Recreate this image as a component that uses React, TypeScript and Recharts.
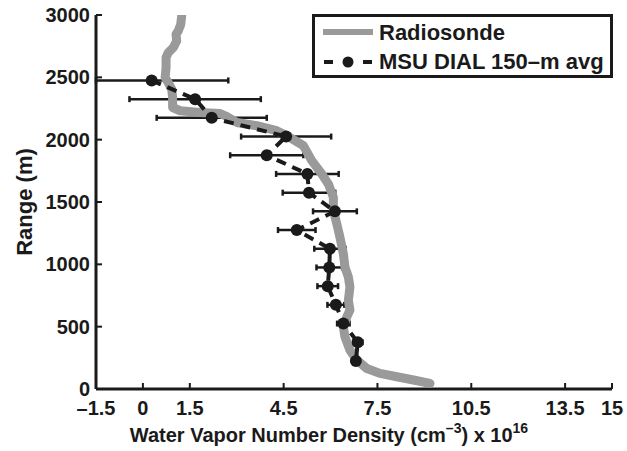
import React from "react";
import {
  ErrorBar,
  Label,
  Legend,
  Scatter,
  ScatterChart,
  XAxis,
  YAxis,
} from "recharts";

// radiosonde profile (top to bottom)
const sondeRange = [
  2992, 2925, 2872, 2845, 2792, 2738, 2698, 2658, 2578, 2498, 2458, 2405, 2338,
  2258, 2232, 2218, 2210, 2192, 2138, 2112, 2072, 2032, 1952, 1832, 1725, 1645,
  1538, 1432, 1325, 1218, 1085, 978, 898, 818, 712, 632, 578, 498, 418, 312, 232,
  165, 125, 98, 72, 45,
];
const sondeDensity = [
  1.24, 1.21, 1.13, 1.06, 1.08, 0.97, 0.81, 0.74, 0.74, 0.71, 0.81, 0.92, 0.95,
  0.95, 1.19, 1.83, 2.47, 2.63, 3.0, 3.64, 4.28, 4.6, 5.13, 5.4, 5.72, 5.93,
  6.09, 6.09, 6.2, 6.3, 6.41, 6.46, 6.57, 6.62, 6.57, 6.62, 6.52, 6.41, 6.46,
  6.62, 6.84, 7.16, 7.58, 8.12, 8.65, 9.18,
];

// MSU DIAL 150-m averages with error half-widths
const dialRange = [
  2475, 2325, 2175, 2025, 1875, 1725, 1575, 1425, 1275, 1125, 975, 825, 675, 525,
  375, 225,
];
const dialDensity = [
  0.28, 1.67, 2.2, 4.58, 3.96, 5.26, 5.31, 6.14, 4.92, 5.98, 5.96, 5.91, 6.17,
  6.41, 6.87, 6.81,
];
const dialError = [
  2.45, 2.1, 1.76, 1.44, 1.17, 1.0, 0.84, 0.7, 0.6, 0.5, 0.41, 0.33, 0.27, 0.2,
  0.15, 0.1,
];

const xTicks = [-1.5, 0, 1.5, 4.5, 7.5, 10.5, 13.5, 15];
const yTicks = [0, 500, 1000, 1500, 2000, 2500, 3000];
const X_MIN = -1.5;

const GRAY = "#9a9a9a";
const INK = "#1a1a1a";
const FONT = "'Liberation Sans', Arial, sans-serif";

const sondeData = sondeRange.map((r, i) => ({ x: sondeDensity[i], y: r }));
const dialData = dialRange.map((r, i) => ({
  x: dialDensity[i],
  y: r,
  err: [Math.min(dialError[i], dialDensity[i] - X_MIN), dialError[i]],
}));

const tickStyle = { fill: INK, fontSize: 20, fontWeight: 700, fontFamily: FONT };
const fmtX = (v: number) => (v < 0 ? "\u2013" + Math.abs(v) : String(v));

function LegendBox() {
  return (
    <svg width={301} height={64} style={{ display: "block" }}>
      <rect x={1.5} y={1.5} width={298} height={61} fill="#fff" stroke={INK} strokeWidth={3} />
      <line x1={11} x2={61} y1={18} y2={18} stroke={GRAY} strokeWidth={6} />
      <text x={67} y={26} fontSize={22} fontWeight={700} fontFamily={FONT} fill={INK}>
        Radiosonde
      </text>
      <line x1={12} x2={21} y1={48} y2={48} stroke={INK} strokeWidth={4} />
      <circle cx={36} cy={48} r={5.5} fill={INK} />
      <line x1={51} x2={60} y1={48} y2={48} stroke={INK} strokeWidth={4} />
      <text x={67} y={55} fontSize={22} fontWeight={700} fontFamily={FONT} fill={INK}>
        MSU DIAL 150–m avg
      </text>
    </svg>
  );
}

const DialDot = (props: any) => (
  <circle cx={props.cx} cy={props.cy} r={6} fill={INK} />
);

export default function App() {
  return (
    <div style={{ position: "absolute", left: 0, top: 0, background: "#fff" }}>
      <ScatterChart
        width={627}
        height={451}
        margin={{ top: 15, right: 15, bottom: 0, left: 0 }}
        style={{ fontFamily: FONT }}
      >
        <XAxis
          type="number"
          dataKey="x"
          domain={[-1.5, 15]}
          ticks={xTicks}
          allowDataOverflow
          height={62}
          tickSize={-6}
          tickMargin={18}
          tickFormatter={fmtX}
          tick={tickStyle}
          axisLine={{ stroke: INK, strokeWidth: 3 }}
          tickLine={{ stroke: INK, strokeWidth: 2 }}
        >
          <Label
            content={() => (
              <text
                x={329}
                y={442}
                textAnchor="middle"
                fontSize={20}
                fontWeight={700}
                fontFamily={FONT}
                fill={INK}
              >
                Water Vapor Number Density (cm
                <tspan fontSize={14} dy={-9}>–3</tspan>
                <tspan dy={9}>) x 10</tspan>
                <tspan fontSize={14} dy={-9}>16</tspan>
              </text>
            )}
          />
        </XAxis>
        <XAxis
          xAxisId="top"
          orientation="top"
          type="number"
          domain={[-1.5, 15]}
          ticks={xTicks}
          allowDataOverflow
          height={0}
          tickSize={-6}
          tickFormatter={() => ""}
          axisLine={{ stroke: INK, strokeWidth: 3 }}
          tickLine={{ stroke: INK, strokeWidth: 2 }}
        />
        <YAxis
          type="number"
          dataKey="y"
          domain={[0, 3000]}
          ticks={yTicks}
          allowDataOverflow
          width={96}
          tickSize={-6}
          tickMargin={12}
          tick={tickStyle}
          axisLine={{ stroke: INK, strokeWidth: 3 }}
          tickLine={{ stroke: INK, strokeWidth: 2 }}
        >
          <Label
            content={() => (
              <text
                x={32}
                y={202}
                transform="rotate(-90, 32, 202)"
                textAnchor="middle"
                fontSize={22}
                fontWeight={700}
                fontFamily={FONT}
                fill={INK}
              >
                Range (m)
              </text>
            )}
          />
        </YAxis>
        <YAxis
          yAxisId="right"
          orientation="right"
          type="number"
          domain={[0, 3000]}
          ticks={yTicks}
          allowDataOverflow
          width={0}
          tickSize={-6}
          tickFormatter={() => ""}
          axisLine={{ stroke: INK, strokeWidth: 3 }}
          tickLine={{ stroke: INK, strokeWidth: 2 }}
        />
        <Scatter
          name="Radiosonde"
          data={sondeData}
          line={{
            stroke: GRAY,
            strokeWidth: 9,
            strokeLinejoin: "round",
            strokeLinecap: "round",
          }}
          shape={() => <g />}
          isAnimationActive={false}
        />
        <Scatter
          name="MSU DIAL 150-m avg"
          data={dialData}
          line={{ stroke: INK, strokeWidth: 4, strokeDasharray: "10 7" }}
          shape={DialDot}
          isAnimationActive={false}
        >
          <ErrorBar
            dataKey="err"
            direction="x"
            width={3}
            stroke={INK}
            strokeWidth={2.5}
          />
        </Scatter>
        <Legend
          layout="horizontal"
          verticalAlign="middle"
          align="center"
          wrapperStyle={{ left: 312, top: 14, width: 301, height: 64 }}
          content={() => <LegendBox />}
        />
      </ScatterChart>
    </div>
  );
}
